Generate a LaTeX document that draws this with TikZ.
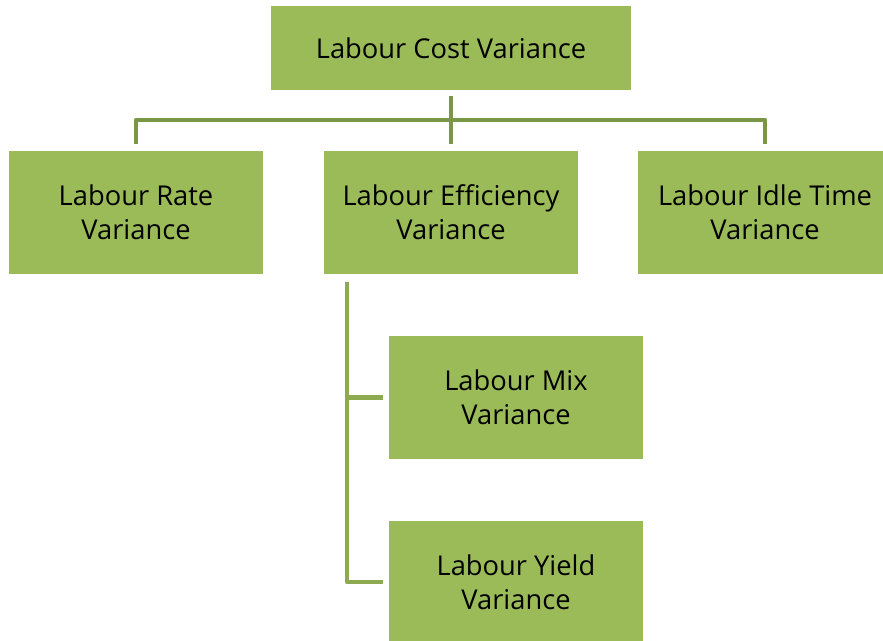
\documentclass[tikz,border=0pt]{standalone}
\usepackage{fontspec}
\setmainfont{Open Sans}
\begin{document}
\begin{tikzpicture}[x=1pt,y=-1pt,
  box/.style={fill=boxgreen,draw=none,inner sep=0pt,align=center,font=\fontsize{27.3}{34}\selectfont,text=black},
  topline/.style={draw=linedark,line width=4.5pt},
  subline/.style={draw=linelight,line width=4.5pt}]
\definecolor{boxgreen}{HTML}{9BBB59}
\definecolor{linedark}{HTML}{7B9645}
\definecolor{linelight}{HTML}{8DAA50}
\useasboundingbox (0,0) rectangle (883,640);
\begin{scope}
\clip (0,0) rectangle (883,640);
\node[box,minimum width=360pt,minimum height=84pt] (top) at (451,48) {Labour Cost Variance};
\node[box,minimum width=254pt,minimum height=123pt] (rate) at (136,212.5) {Labour Rate\\Variance};
\node[box,minimum width=254pt,minimum height=123pt] (eff) at (451,212.5) {Labour Efficiency\\Variance};
\node[box,minimum width=254pt,minimum height=123pt] (idle) at (765,212.5) {Labour Idle Time\\Variance};
\node[box,minimum width=254pt,minimum height=123pt] (mix) at (516,397.5) {Labour Mix\\Variance};
\node[box,minimum width=254pt,minimum height=123pt] (yield) at (516,582) {Labour Yield\\Variance};
\end{scope}
\coordinate (hub) at (451,120);
\draw[topline] ([yshift=-6pt]top.south) -- (hub);
\draw[topline,line join=round] ([yshift=7pt]rate.north) |- (hub) -| ([yshift=7pt]idle.north);
\draw[topline] (hub) -- ([yshift=7pt]eff.north);
\coordinate (trunk) at (347,282);
\draw[subline,line join=round] (trunk) |- ([xshift=-6pt]yield.west);
\draw[subline] (347,397.5) -- ([xshift=-6pt]mix.west);
\end{tikzpicture}
\end{document}
